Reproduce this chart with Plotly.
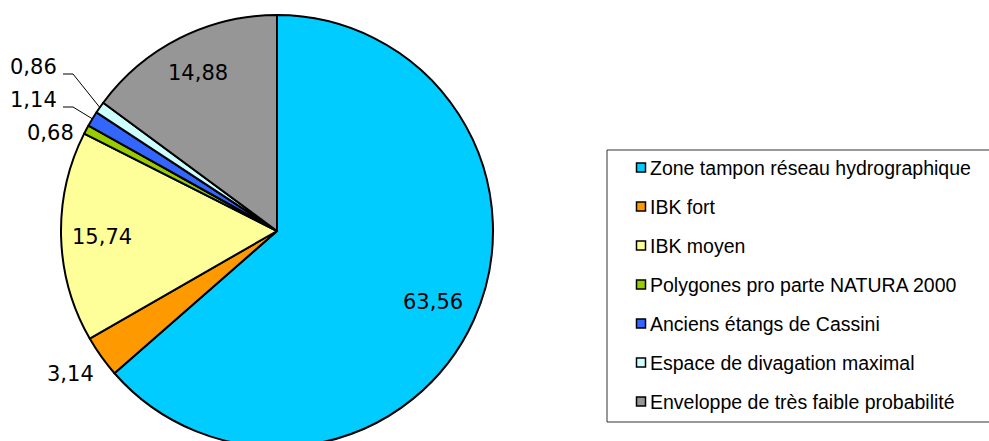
import math
import plotly.graph_objects as go

# ---- data ----
categories = [
    "Zone tampon réseau hydrographique",
    "IBK fort",
    "IBK moyen",
    "Polygones pro parte NATURA 2000",
    "Anciens étangs de Cassini",
    "Espace de divagation maximal",
    "Enveloppe de très faible probabilité",
]
values = [63.56, 3.14, 15.74, 0.68, 1.14, 0.86, 14.88]
colors = ["#00CCFF", "#FF9900", "#FFFF99", "#99CC00", "#3366FF", "#CCFFFF", "#969696"]

# ---- layout constants (pixels) ----
W, H = 989, 450
CX, CY, R = 277, 231, 216

# label centres (pixels) and whether a leader line is drawn
label_pos = [(433, 302), (70, 374), (102, 237), (50, 133), (33, 100), (33, 67), (198, 73)]
leader = [False, False, False, False, True, True, False]


def fmt(v):
    return f"{v:.2f}".replace(".", ",")


def px(x, y):
    return x / W, 1 - y / H


fig = go.Figure()
fig.add_trace(go.Pie(
    labels=categories,
    values=values,
    sort=False,
    direction="clockwise",
    rotation=0,
    marker=dict(colors=colors, line=dict(color="black", width=2)),
    textinfo="none",
    hoverinfo="label+value",
    showlegend=False,
    domain=dict(x=[(CX - R) / W, (CX + R) / W], y=[(H - CY - R) / H, (H - CY + R) / H]),
))

annotations = []
shapes = []
total = sum(values)
cum = 0.0
for i, v in enumerate(values):
    mid = (cum + v / 2) / total * 2 * math.pi
    cum += v
    lx, ly = label_pos[i]
    ax, ay = px(lx, ly)
    annotations.append(dict(x=ax, y=ay, xref="paper", yref="paper", text=fmt(v),
                            showarrow=False, xanchor="center", yanchor="middle",
                            font=dict(family="DejaVu Sans", size=21, color="black")))
    if leader[i]:
        ex = CX + R * math.sin(mid)
        ey = CY - R * math.cos(mid)
        x0, y0 = lx + 30, ly + 7
        x1 = x0 + 10
        p0, p1, p2 = px(x0, y0), px(x1, y0), px(ex, ey)
        shapes.append(dict(type="path", xref="paper", yref="paper",
                           path=f"M {p0[0]},{p0[1]} L {p1[0]},{p1[1]} L {p2[0]},{p2[1]}",
                           line=dict(color="black", width=1)))

# legend (manual, to match spacing of reference)
bx0, by0, bx1, by1 = px(607, 150) + px(992, 422)
shapes.append(dict(type="rect", xref="paper", yref="paper", x0=bx0, y0=by0, x1=bx1, y1=by1,
                   line=dict(color="#333333", width=1), fillcolor="rgba(0,0,0,0)"))
for i, (c, lab) in enumerate(zip(colors, categories)):
    yc = 167.5 + 39 * i
    sx0, sy0 = px(636.5, yc - 4.5)
    sx1, sy1 = px(645.5, yc + 4.5)
    shapes.append(dict(type="rect", xref="paper", yref="paper", x0=sx0, y0=sy0, x1=sx1, y1=sy1,
                       line=dict(color="black", width=1.5), fillcolor=c))
    tx, ty = px(648, yc)
    annotations.append(dict(x=tx, y=ty, xref="paper", yref="paper", text=lab, showarrow=False,
                            xanchor="left", yanchor="middle",
                            font=dict(family="Liberation Sans, Arial", size=19.5, color="black")))

fig.update_layout(
    width=W, height=H,
    margin=dict(l=0, r=0, t=0, b=0),
    paper_bgcolor="white",
    plot_bgcolor="white",
    showlegend=False,
    annotations=annotations,
    shapes=shapes,
)

fig.write_html(
    "out.html",
    config={"displayModeBar": False},
    post_script="document.body.style.margin='0';document.body.style.overflow='hidden';"
                "document.documentElement.style.overflow='hidden';",
)
